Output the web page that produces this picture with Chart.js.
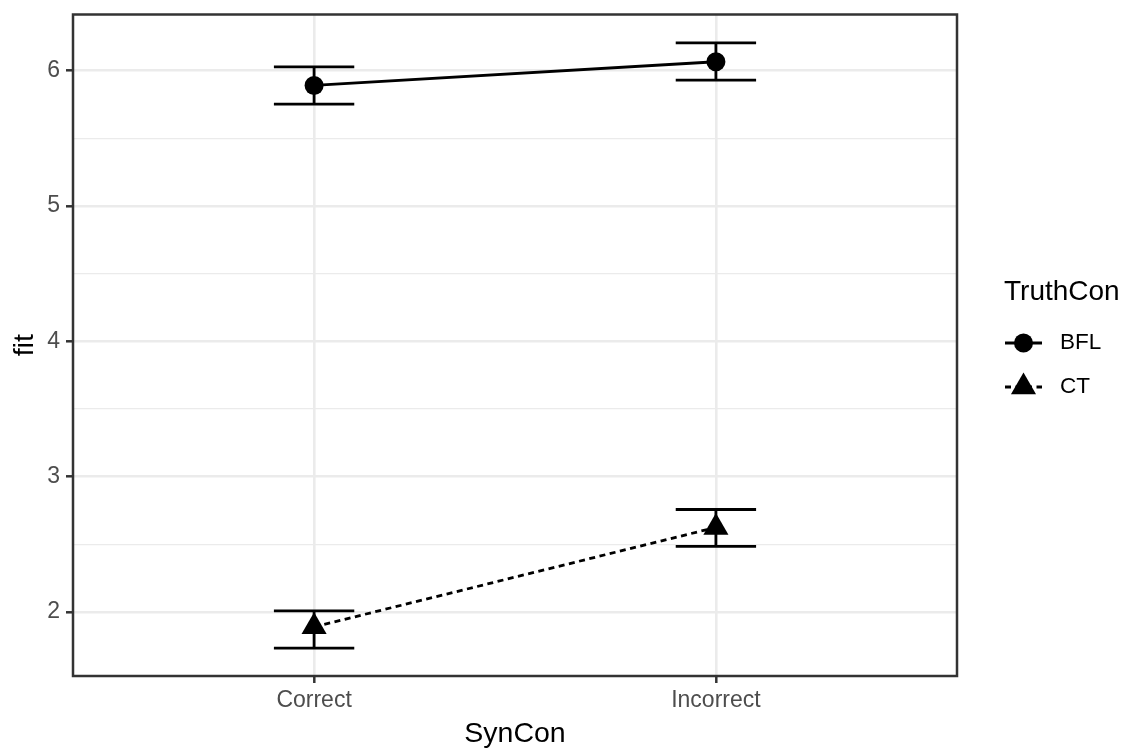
<!DOCTYPE html>
<html>
<head>
<meta charset="utf-8">
<script src="https://cdn.jsdelivr.net/npm/chart.js@4"></script>
<style>
  body { margin: 0; background: #fff; }
  canvas { display: block; }
</style>
</head>
<body>
<canvas id="chart" width="1129" height="753"></canvas>
<script>
// values
const categories = ['Correct', 'Incorrect'];
const groups = ['BFL', 'CT'];
const bflFit = [5.89, 6.065];
const bflLower = [5.752, 5.929];
const bflUpper = [6.027, 6.204];
const ctFit = [1.89, 2.625];
const ctLower = [1.733, 2.485];
const ctUpper = [2.008, 2.757];
const yTicks = [2, 2.5, 3, 3.5, 4, 4.5, 5, 5.5, 6];

const FONT = "'Liberation Sans', Arial, sans-serif";
const GRID = '#ebebeb';
const DARK = '#333333';
const LW = 2.8;

const toPoints = (vals) => vals.map((v, i) => ({ x: i + 1, y: v }));

// error bars, drawn under the points
const errorBars = {
  id: 'errorBars',
  beforeDatasetsDraw(chart) {
    const { ctx, scales: { x, y } } = chart;
    const half = x.getPixelForValue(1.1) - x.getPixelForValue(1);
    const sets = [[bflLower, bflUpper], [ctLower, ctUpper]];
    ctx.save();
    ctx.strokeStyle = '#000';
    ctx.lineWidth = LW;
    sets.forEach(([lo, hi]) => {
      lo.forEach((l, i) => {
        const px = x.getPixelForValue(i + 1);
        const y0 = y.getPixelForValue(l);
        const y1 = y.getPixelForValue(hi[i]);
        ctx.beginPath();
        ctx.moveTo(px, y0); ctx.lineTo(px, y1);
        ctx.moveTo(px - half, y0); ctx.lineTo(px + half, y0);
        ctx.moveTo(px - half, y1); ctx.lineTo(px + half, y1);
        ctx.stroke();
      });
    });
    ctx.restore();
  }
};

function triangle(ctx, cx, cy, r) {
  ctx.beginPath();
  for (let k = 0; k < 3; k++) {
    const a = k * 2 * Math.PI / 3;
    const px = cx + Math.sin(a) * r;
    const py = cy - Math.cos(a) * r;
    if (k === 0) ctx.moveTo(px, py); else ctx.lineTo(px, py);
  }
  ctx.closePath();
  ctx.fill();
}

// panel border + legend on the right
const frameAndLegend = {
  id: 'frameAndLegend',
  afterDraw(chart) {
    const { ctx, chartArea: a } = chart;
    ctx.save();
    ctx.strokeStyle = DARK;
    ctx.lineWidth = 2.5;
    ctx.strokeRect(a.left, a.top, a.right - a.left, a.bottom - a.top);

    ctx.fillStyle = '#000';
    ctx.font = '28px ' + FONT;
    ctx.textBaseline = 'alphabetic';
    ctx.fillText('TruthCon', 1004, 300);

    const rows = [343, 387];
    const x0 = 1005, x1 = 1042, cx = (x0 + x1) / 2;
    ctx.strokeStyle = '#000';
    ctx.lineWidth = LW;
    groups.forEach((g, i) => {
      const yy = rows[i];
      ctx.setLineDash(i === 0 ? [] : [6, 4.5]);
      ctx.beginPath();
      ctx.moveTo(x0, yy); ctx.lineTo(x1, yy);
      ctx.stroke();
      ctx.setLineDash([]);
      if (i === 0) {
        ctx.beginPath();
        ctx.arc(cx, yy, 9.5, 0, Math.PI * 2);
        ctx.fill();
      } else {
        triangle(ctx, cx, yy, 14.5);
      }
      ctx.font = '22.5px ' + FONT;
      ctx.textBaseline = 'middle';
      ctx.fillText(g, 1060, yy);
    });
    ctx.restore();
  }
};

new Chart(document.getElementById('chart'), {
  type: 'scatter',
  data: {
    datasets: [
      {
        label: groups[0],
        data: toPoints(bflFit),
        showLine: true,
        borderColor: '#000',
        backgroundColor: '#000',
        borderWidth: LW,
        pointStyle: 'circle',
        pointRadius: 9.5,
        pointBorderWidth: 0,
        pointHoverRadius: 9.5
      },
      {
        label: groups[1],
        data: toPoints(ctFit),
        showLine: true,
        borderColor: '#000',
        backgroundColor: '#000',
        borderWidth: LW,
        borderDash: [6, 4.5],
        pointStyle: 'triangle',
        pointRadius: 14.5,
        pointBorderWidth: 0,
        pointHoverRadius: 14.5
      }
    ]
  },
  options: {
    responsive: false,
    animation: false,
    devicePixelRatio: 1,
    layout: { padding: { left: 0, top: 12, right: 172, bottom: 0 } },
    plugins: {
      legend: { display: false },
      tooltip: { enabled: false }
    },
    scales: {
      x: {
        type: 'linear',
        min: 0.4,
        max: 2.6,
        afterBuildTicks: (s) => { s.ticks = categories.map((c, i) => ({ value: i + 1 })); },
        afterFit: (s) => { s.height = 77; s.paddingLeft = 0; s.paddingRight = 0; },
        border: { display: false },
        grid: { color: GRID, lineWidth: 2.6, tickColor: DARK, tickLength: 7, tickWidth: 2.5 },
        ticks: {
          color: '#4d4d4d',
          font: { family: FONT, size: 23 },
          padding: 3.5,
          maxRotation: 0,
          callback: (v) => categories[v - 1]
        },
        title: {
          display: true,
          text: 'SynCon',
          color: '#000',
          font: { family: FONT, size: 28.5 },
          padding: { top: 0, bottom: 2 }
        }
      },
      y: {
        min: 1.527,
        max: 6.414,
        afterBuildTicks: (s) => { s.ticks = yTicks.map((v) => ({ value: v })); },
        afterFit: (s) => { s.width = 73; s.paddingTop = 0; s.paddingBottom = 0; },
        border: { display: false },
        grid: {
          color: GRID,
          lineWidth: (c) => (Number.isInteger(c.tick && c.tick.value) ? 2.6 : 1.3),
          tickColor: (c) => (Number.isInteger(c.tick && c.tick.value) ? DARK : 'rgba(0,0,0,0)'),
          tickLength: 7,
          tickWidth: 2.5
        },
        ticks: {
          color: '#4d4d4d',
          font: { family: FONT, size: 23 },
          padding: 6,
          callback: (v) => (Number.isInteger(v) ? String(v) : '')
        },
        title: {
          display: true,
          text: 'fit',
          color: '#000',
          font: { family: FONT, size: 28.5 },
          padding: { top: 8, bottom: 0 }
        }
      }
    }
  },
  plugins: [errorBars, frameAndLegend]
});
</script>
</body>
</html>
